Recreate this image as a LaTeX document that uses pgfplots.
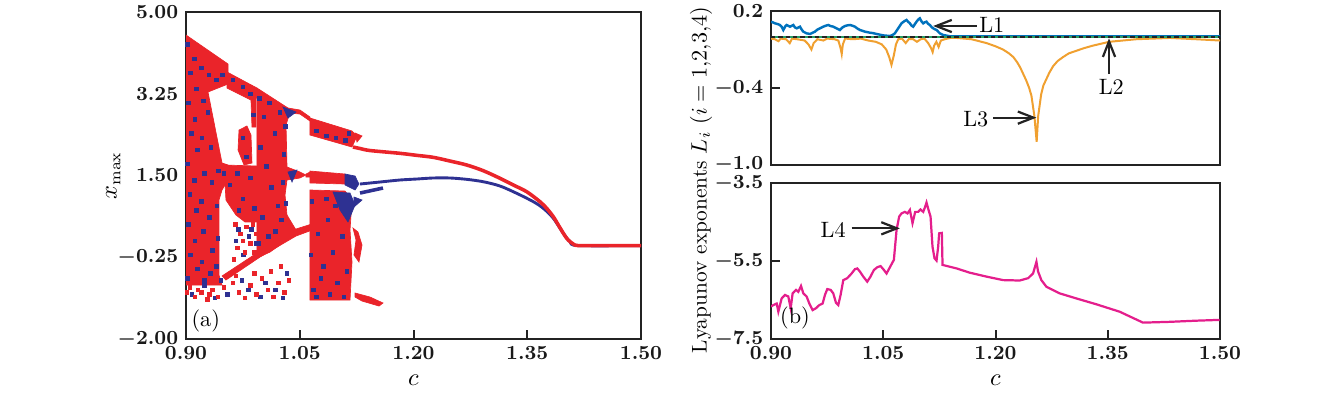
\documentclass[border=0pt]{standalone}
\usepackage{pgfplots}
\pgfplotsset{compat=1.18}
\usetikzlibrary{arrows.meta}
\definecolor{myred}{RGB}{234,36,42}
\definecolor{myblue}{RGB}{46,49,146}
\definecolor{lblue}{RGB}{0,114,189}
\definecolor{lorange}{RGB}{240,160,48}
\definecolor{lgreen}{RGB}{40,160,100}
\definecolor{lmag}{RGB}{228,30,140}
\definecolor{frame}{RGB}{35,35,35}
\tikzset{arr/.style={-{Straight Barb[length=7pt,width=5.5pt,line width=1pt]}, line width=1pt, color=frame}}
\pgfplotsset{
  mystyle/.style={scale only axis, anchor=south west,
    axis line style={line width=1.1pt, color=frame},
    tick style={line width=0.9pt, color=frame},
    major tick length=4pt,
    tick align=inside, tick pos=left,
    ticklabel style={font=\fontsize{9.2}{11}\selectfont\boldmath, color=black!90},
    label style={font=\fontsize{10.5}{12}\selectfont},
    xmin=0.9, xmax=1.5},
  rfill/.style={fill=myred, draw=myred, line width=0.3pt},
  bfill/.style={fill=myblue, draw=myblue, line width=0.3pt}
}
\begin{document}
\begin{tikzpicture}
\path[use as bounding box] (0pt,0pt) rectangle (602.55pt,-177.3pt);

% ---------------- (a) bifurcation diagram ----------------
\begin{axis}[mystyle, at={(83.7pt,-152.55pt)}, width=204.75pt, height=147.15pt,
  ymin=-2, ymax=5,
  xtick={0.9,1.05,1.2,1.35,1.5}, xticklabels={$0.90$,$1.05$,$1.20$,$1.35$,$1.50$},
  ytick={-2,-0.25,1.5,3.25,5}, yticklabels={$-2.00$,$-0.25$,$1.50$,$3.25$,$5.00$},
  xlabel={$c$}, ylabel={$x_{\max}$},
  xlabel style={at={(axis description cs:0.5,-0.125)}, anchor=center},
  ylabel style={at={(axis description cs:-0.16,0.5)}, anchor=center}]
% dense chaotic bands
\addplot[rfill] coordinates {(0.900,4.508) (0.9554,3.887) (0.9554,3.459) (0.9290,3.288) (0.9475,1.768) (0.9554,1.725) (0.9554,1.404) (0.9475,1.190) (0.9435,0.976) (0.9435,-0.630) (0.9475,-0.844) (0.900,-0.844)} --cycle;
\addplot[rfill] coordinates {(0.9541,3.716) (0.9936,3.373) (0.9936,3.159) (0.9923,3.159) (0.9923,2.538) (0.9870,2.538) (0.9857,3.116) (0.9541,3.373)} --cycle;
\addplot[rfill] coordinates {(0.9699,2.474) (0.9804,2.560) (0.9857,2.367) (0.9870,1.768) (0.9765,1.725) (0.9686,2.046)} --cycle;
\addplot[rfill] coordinates {(0.9501,1.725) (0.9936,1.703) (0.9936,0.505) (0.9778,0.505) (0.9659,0.654) (0.9527,0.976)} --cycle;
\addplot[rfill] coordinates {(0.9936,3.373) (1.0345,2.945) (1.0371,2.859) (1.0319,2.581) (1.0332,1.682) (1.0503,1.575) (1.0582,1.511) (1.0503,1.447) (1.0332,1.404) (1.0306,1.083) (1.0332,0.654) (1.0451,0.333) (1.0332,0.119) (1.0108,-0.138) (0.9936,-0.266)} --cycle;
\addplot[rfill] coordinates {(1.0345,2.945) (1.0503,2.902) (1.0635,2.752) (1.0635,2.667) (1.0503,2.816) (1.0371,2.838)} --cycle;
\addplot[rfill] coordinates {(1.0582,1.532) (1.0635,1.575) (1.0635,1.468) (1.0582,1.468)} --cycle;
\addplot[rfill] coordinates {(0.9475,-0.651) (0.9976,-0.116) (1.0451,0.355) (1.0701,0.483) (1.0701,0.355) (1.0451,0.205) (0.9976,-0.245) (0.9527,-0.737)} --cycle;
\addplot[rfill] coordinates {(1.0635,2.731) (1.1189,2.453) (1.1255,2.346) (1.1189,2.110) (1.0635,2.367)} --cycle;
\addplot[rfill] coordinates {(1.1229,2.410) (1.1321,2.346) (1.1255,2.217)} --cycle;
\addplot[rfill] coordinates {(1.0635,1.596) (1.1097,1.532) (1.1097,1.318) (1.0635,1.340)} --cycle;
\addplot[rfill] coordinates {(1.0635,1.190) (1.1097,1.168) (1.1189,0.976) (1.1163,0.333) (1.1189,-0.352) (1.1163,-1.165) (1.0635,-1.165)} --cycle;
\addplot[rfill] coordinates {(1.1202,0.376) (1.1268,0.290) (1.1321,0.012) (1.1281,-0.352) (1.1215,-0.202) (1.1242,0.119)} --cycle;
\addplot[rfill] coordinates {(1.1229,-1.015) (1.1426,-1.101) (1.1598,-1.229) (1.1545,-1.294) (1.1321,-1.187) (1.1229,-1.101)} --cycle;
% blue patches
\addplot[bfill] coordinates {(1.1097,1.532) (1.1229,1.489) (1.1281,1.318) (1.1229,1.190) (1.1097,1.297)} --cycle;
\addplot[bfill] coordinates {(1.0939,1.147) (1.1163,1.125) (1.1229,0.869) (1.1136,0.505) (1.1031,0.762)} --cycle;
\addplot[bfill] coordinates {(1.1215,1.040) (1.1321,0.976) (1.1215,0.826)} --cycle;
\addplot[bfill] coordinates {(1.0279,2.966) (1.0451,2.859) (1.0345,2.731)} --cycle;
\addplot[bfill] coordinates {(1.0345,1.575) (1.0464,1.618) (1.0398,1.361)} --cycle;
% blue points in the chaotic bands
\addplot[only marks, mark=square*, mark size=0.8pt, color=myblue] coordinates {
(0.902,4.30) (0.906,3.70) (0.903,3.05) (0.907,2.40) (0.902,1.75) (0.905,1.10) (0.903,0.45) (0.906,-0.20) (0.902,-0.70)
(0.911,4.00) (0.914,3.35) (0.912,2.70) (0.915,2.05) (0.911,1.40) (0.914,0.75) (0.912,0.10) (0.915,-0.50)
(0.920,3.80) (0.923,3.10) (0.921,2.30) (0.924,1.55) (0.920,0.95) (0.923,0.30) (0.921,-0.35) (0.924,-0.75)
(0.930,3.65) (0.929,2.85) (0.933,2.10) (0.934,1.35) (0.931,0.60) (0.935,-0.10) (0.932,-0.60)
(0.940,3.55) (0.943,1.60) (0.941,0.85) (0.942,0.15) (0.940,-0.45) (0.948,3.65) (0.950,1.55)
(0.962,3.55) (0.975,3.40) (0.985,3.25) (0.989,2.80) (0.975,2.30) (0.980,1.90)
(0.958,1.30) (0.968,1.55) (0.975,1.00) (0.985,1.45) (0.990,0.80) (0.970,0.75)
(0.997,3.15) (1.003,2.75) (1.010,3.05) (1.017,2.40) (1.024,2.85) (1.029,1.95) (1.031,2.55)
(0.998,2.10) (1.006,1.70) (1.013,1.25) (1.021,0.85) (1.028,1.35) (1.001,0.60) (1.009,0.20)
(1.018,0.30) (1.026,0.55) (1.032,0.90) (0.996,0.05)
(1.072,2.45) (1.085,2.35) (1.098,2.30) (1.110,2.25) (1.115,2.40)
(1.066,0.95) (1.074,0.25) (1.081,-0.45) (1.068,-0.95) (1.087,0.55) (1.094,-0.15) (1.100,-0.80)
(1.106,0.20) (1.112,-0.55) (1.090,-1.05) (1.078,-0.70) (1.065,-0.20) (1.097,0.85) (1.072,-1.10)
(1.108,-1.10) (1.085,1.00)
(0.969,0.35) (0.983,0.20) (0.966,0.10) (0.976,-0.20) (0.992,0.05) (0.986,0.35)
(0.908,-1.05) (0.924,-0.85) (0.938,-1.12) (0.955,-1.05) (0.974,-0.75) (0.982,-0.95) (0.998,-1.10)
(1.005,-0.80) (1.018,-0.95) (1.028,-1.12) (1.033,-0.60) (0.946,-0.75)};
% sparse red points
\addplot[only marks, mark=square*, mark size=0.8pt, color=myred] coordinates {
(0.965,0.45) (0.972,0.25) (0.968,-0.05) (0.980,0.40) (0.985,0.05) (0.990,-0.15) (0.975,0.10)
(0.963,-0.30) (0.988,0.45) (0.978,-0.15) (0.993,0.25)
(0.905,-0.90) (0.912,-1.10) (0.920,-1.00) (0.928,-1.15) (0.935,-0.95) (0.942,-1.10) (0.950,-0.90)
(0.962,-0.80) (0.970,-1.00) (0.978,-1.12) (0.985,-0.85) (0.993,-1.05) (1.000,-0.70) (1.008,-0.95)
(1.015,-1.10) (1.022,-0.80) (1.030,-1.00) (1.036,-0.75) (0.966,-0.65) (0.990,-0.60) (1.012,-0.55)
(1.025,-0.45) (0.916,-0.95) (0.931,-1.05) (0.901,-1.00)};
% periodic branches
\addplot[color=myblue, line width=1.6pt] coordinates {(1.1295,1.125) (1.1450,1.180) (1.1598,1.232)};
\addplot[color=myblue, line width=1.3pt, smooth] coordinates {(1.1295,1.318) (1.1558,1.361) (1.1822,1.404) (1.2042,1.425) (1.2261,1.447) (1.2481,1.447) (1.2702,1.418) (1.2920,1.367) (1.3141,1.275) (1.3361,1.119) (1.3581,0.939) (1.3712,0.797) (1.3844,0.584) (1.3976,0.263) (1.4064,0.083) (1.4173,0.0) (1.5,0.0)};
\addplot[color=myred, line width=1.6pt, smooth] coordinates {(1.1202,2.110) (1.1295,2.078) (1.1426,2.035) (1.1822,1.975) (1.2042,1.932) (1.2261,1.889) (1.2481,1.810) (1.2702,1.725) (1.2920,1.603) (1.3141,1.440) (1.3316,1.297) (1.3493,1.153) (1.3668,0.939) (1.3757,0.797) (1.3844,0.618) (1.3910,0.440) (1.3976,0.263) (1.4020,0.156) (1.4064,0.083) (1.4107,0.034) (1.4173,0.0) (1.45,0.0) (1.5,0.0)};
\node[font=\fontsize{10}{12}\selectfont] at (axis cs:0.926,-1.61) {(a)};
\end{axis}

% ---------------- (b) top: L1, L2, L3 ----------------
\begin{axis}[mystyle, at={(346.95pt,-74.25pt)}, width=202.05pt, height=69.3pt,
  ymin=-1, ymax=0.2, xtick=\empty,
  ytick={-1,-0.4,0.2}, yticklabels={\raisebox{1.6pt}{$-1.0$},$-0.4$,$0.2$}]
\addplot[color=lorange, line width=0.9pt] coordinates {
(0.900,-0.015) (0.905,-0.02) (0.910,-0.035) (0.913,-0.015) (0.920,-0.02) (0.925,-0.05) (0.928,-0.015)
(0.935,-0.02) (0.945,-0.03) (0.950,-0.06) (0.954,-0.10) (0.957,-0.05) (0.962,-0.02) (0.970,-0.03)
(0.975,-0.015) (0.985,-0.02) (0.990,-0.03) (0.993,-0.09) (0.9945,-0.135) (0.996,-0.06) (0.999,-0.015)
(1.010,-0.02) (1.020,-0.015) (1.030,-0.03) (1.040,-0.04) (1.048,-0.06) (1.054,-0.10) (1.058,-0.16)
(1.061,-0.22) (1.064,-0.15) (1.067,-0.06) (1.070,-0.02) (1.075,-0.015) (1.080,-0.05) (1.084,-0.02)
(1.090,-0.02) (1.095,-0.04) (1.100,-0.02) (1.105,-0.015) (1.110,-0.05) (1.114,-0.09) (1.116,-0.12)
(1.118,-0.07) (1.121,-0.04) (1.124,-0.08) (1.127,-0.03) (1.132,-0.02) (1.140,-0.01) (1.148,-0.01)
(1.168,-0.02) (1.188,-0.05) (1.200,-0.075) (1.210,-0.10) (1.218,-0.13) (1.224,-0.16) (1.229,-0.20) (1.233,-0.24) (1.237,-0.29) (1.241,-0.34) (1.245,-0.40) (1.248,-0.46)
(1.252,-0.62) (1.255,-0.82) (1.257,-0.62) (1.261,-0.45) (1.264,-0.38) (1.268,-0.33) (1.272,-0.28) (1.277,-0.23) (1.283,-0.19) (1.290,-0.16)
(1.298,-0.13) (1.308,-0.11) (1.318,-0.09) (1.330,-0.07) (1.352,-0.04) (1.370,-0.03) (1.388,-0.02) (1.433,-0.01) (1.468,-0.02) (1.500,-0.03)};
\addplot[color=lblue, line width=1.1pt] coordinates {
(0.900,0.117) (0.9030,0.110) (0.9053,0.104) (0.9090,0.098) (0.9120,0.091) (0.9145,0.075) (0.9165,0.052)
(0.9190,0.080) (0.9209,0.091) (0.9254,0.078) (0.9298,0.091) (0.9320,0.072) (0.9343,0.065) (0.9387,0.078)
(0.9410,0.055) (0.9432,0.039) (0.9476,0.026) (0.9521,0.021) (0.9587,0.039) (0.9620,0.055) (0.9654,0.065)
(0.9699,0.078) (0.9730,0.085) (0.9765,0.091) (0.9800,0.082) (0.9832,0.078) (0.9877,0.065) (0.9921,0.052)
(0.9950,0.070) (0.9988,0.083) (1.0020,0.088) (1.0055,0.091) (1.0090,0.085) (1.0121,0.078) (1.0150,0.065)
(1.0188,0.052) (1.0255,0.039) (1.0322,0.031) (1.0360,0.028) (1.0411,0.021) (1.0500,0.010) (1.0589,0.005)
(1.0630,0.015) (1.0655,0.026) (1.0700,0.065) (1.0744,0.104) (1.0780,0.120) (1.0811,0.130) (1.0835,0.115)
(1.0856,0.104) (1.0880,0.085) (1.0900,0.078) (1.0925,0.100) (1.0945,0.117) (1.0970,0.135) (1.0989,0.143)
(1.1010,0.120) (1.1034,0.104) (1.1055,0.112) (1.1078,0.117) (1.1100,0.100) (1.1123,0.091) (1.1145,0.075)
(1.1167,0.065) (1.1190,0.058) (1.1212,0.052) (1.1256,0.026) (1.1301,0.013) (1.1390,0.003) (1.5,0.003)};
\addplot[color=lgreen, line width=0.9pt] coordinates {(0.9,0) (1.5,0)};
\addplot[color=frame, line width=0.9pt, dash pattern=on 2pt off 1.3pt] coordinates {(0.9,0) (1.5,0)};
\draw[arr] (axis cs:1.1746,0.083) -- (axis cs:1.1167,0.083);
\node[font=\fontsize{10}{12}\selectfont] at (axis cs:1.195,0.09) {L1};
\draw[arr] (axis cs:1.3517,-0.291) -- (axis cs:1.3517,-0.013);
\node[font=\fontsize{10}{12}\selectfont] at (axis cs:1.3548,-0.395) {L2};
\draw[arr] (axis cs:1.1968,-0.631) -- (axis cs:1.2547,-0.631);
\node[font=\fontsize{10}{12}\selectfont] at (axis cs:1.1737,-0.644) {L3};
\end{axis}

% ---------------- (b) bottom: L4 ----------------
\begin{axis}[mystyle, at={(346.95pt,-152.55pt)}, width=202.05pt, height=70.2pt,
  ymin=-7.5, ymax=-3.5,
  xtick={0.9,1.05,1.2,1.35,1.5}, xticklabels={$0.90$,$1.05$,$1.20$,$1.35$,$1.50$},
  ytick={-7.5,-5.5,-3.5}, yticklabels={$-7.5$,$-5.5$,\raisebox{-1.6pt}{$-3.5$}},
  xlabel={$c$}, xlabel style={at={(axis description cs:0.5,-0.263)}, anchor=center}]
\addplot[color=lmag, line width=1pt] coordinates {
(0.900,-6.67) (0.9031,-6.63) (0.9076,-6.59) (0.9098,-6.80) (0.9142,-6.46) (0.9187,-6.37) (0.9231,-6.41)
(0.9263,-6.71) (0.9289,-6.33) (0.9334,-6.24) (0.9365,-6.29) (0.9401,-6.14) (0.9432,-6.33) (0.9476,-6.41)
(0.9512,-6.59) (0.9556,-6.76) (0.9601,-6.71) (0.9645,-6.63) (0.9690,-6.59) (0.9721,-6.37) (0.9752,-6.22)
(0.9797,-6.24) (0.9832,-6.33) (0.9868,-6.57) (0.9899,-6.63) (0.9930,-6.37) (0.9966,-5.99) (1.0019,-5.94)
(1.0077,-5.82) (1.0121,-5.71) (1.0153,-5.69) (1.0188,-5.77) (1.0233,-5.90) (1.0286,-6.03) (1.0330,-5.90)
(1.0375,-5.73) (1.0420,-5.66) (1.0464,-5.63) (1.0509,-5.73) (1.0544,-5.82) (1.0589,-5.66) (1.0642,-5.47)
(1.0678,-4.70) (1.0713,-4.36) (1.0744,-4.28) (1.0789,-4.24) (1.0824,-4.28) (1.0856,-4.19) (1.0891,-4.53)
(1.0927,-4.24) (1.0967,-4.24) (1.0998,-4.18) (1.1034,-4.24) (1.1060,-4.11) (1.1078,-4.00) (1.1105,-4.19)
(1.1132,-4.36) (1.1158,-5.13) (1.1185,-5.43) (1.1212,-5.49) (1.1234,-5.13) (1.1247,-4.79) (1.1283,-4.78)
(1.1292,-5.60) (1.1479,-5.69) (1.1657,-5.80) (1.1879,-5.90) (1.2102,-5.99) (1.2324,-6.00) (1.2436,-5.94)
(1.2502,-5.82) (1.2547,-5.52) (1.2569,-5.77) (1.2613,-5.99) (1.2680,-6.16) (1.2858,-6.33) (1.3081,-6.46)
(1.3348,-6.61) (1.3659,-6.80) (1.3971,-7.08) (1.4327,-7.06) (1.4683,-7.03) (1.4994,-7.01)};
\draw[arr] (axis cs:1.0077,-4.662) -- (axis cs:1.0722,-4.662);
\node[font=\fontsize{10}{12}\selectfont] at (axis cs:0.983,-4.705) {L4};
\node[font=\fontsize{10}{12}\selectfont] at (axis cs:0.932,-6.97) {(b)};
\end{axis}

\node[rotate=90, font=\fontsize{9.6}{11}\selectfont] at (315.45pt,-81pt) {Lyapunov exponents $L_i$ $(i=1{,}2{,}3{,}4)$};
\end{tikzpicture}
\end{document}
